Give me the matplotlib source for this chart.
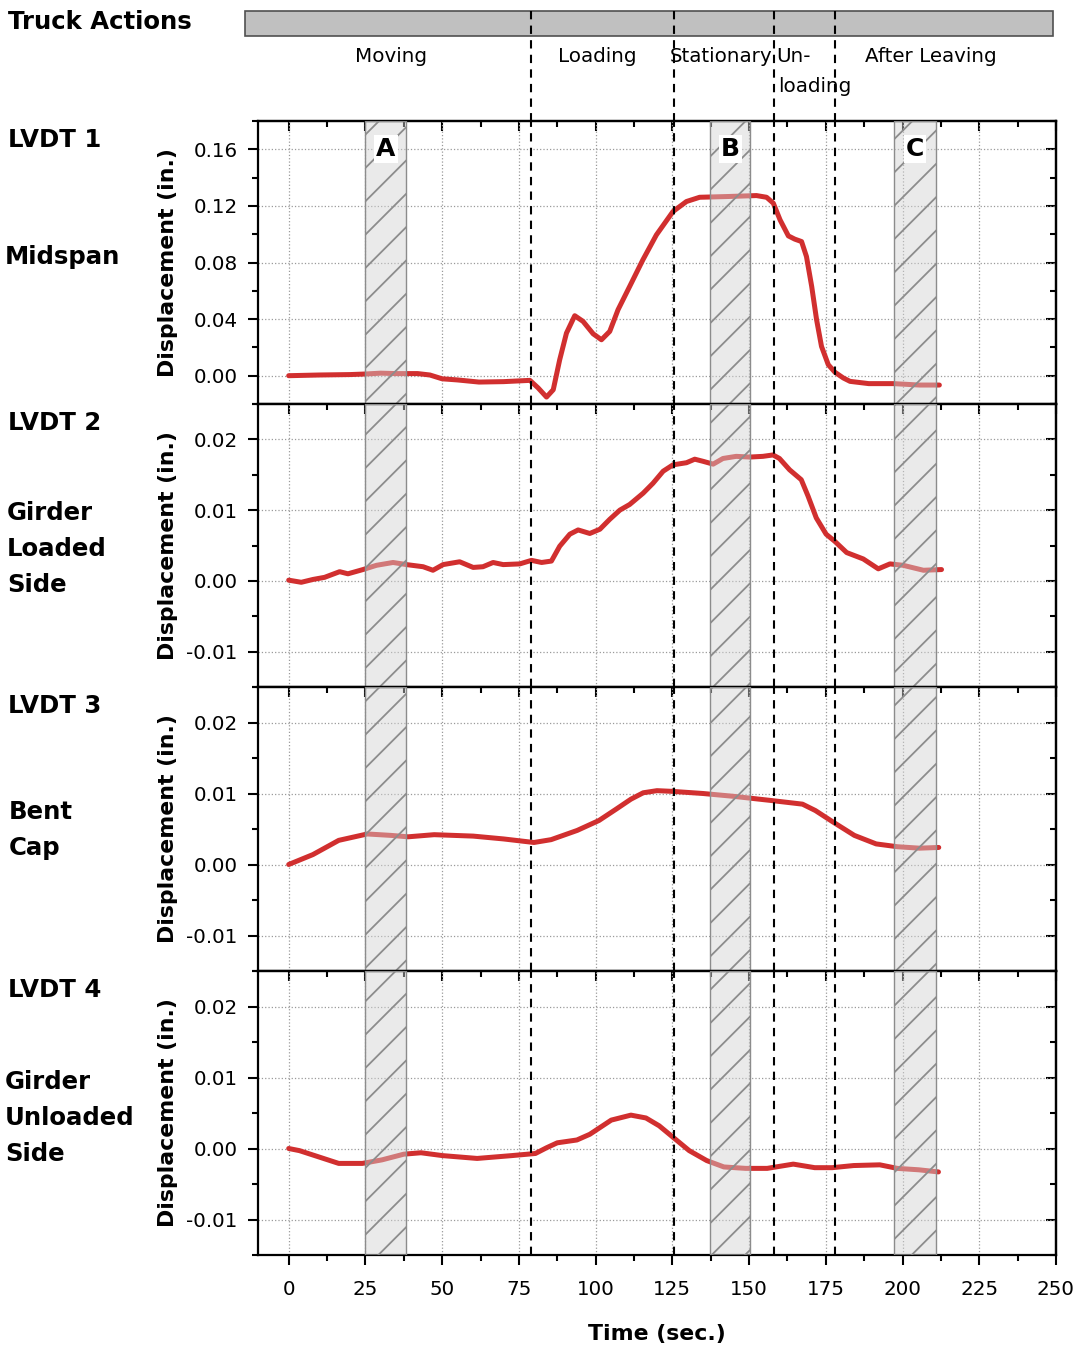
import matplotlib.pyplot as plt
from matplotlib.patches import Rectangle
from matplotlib.ticker import MultipleLocator, FormatStrFormatter

plt.rcParams['font.family'] = ['DejaVu Sans']
plt.rcParams['axes.unicode_minus'] = False
plt.rcParams['hatch.linewidth'] = 1.3

# LVDT 1 - midspan
t1 = [0, 10, 20, 25, 30, 35, 42, 46, 50, 55, 62, 70, 78.6, 81.3, 84.0, 86.2, 88.3, 90.5,
      93.2, 95.9, 99.2, 101.9, 104.6, 107.3, 111.1, 115.4, 119.8, 125.2, 129.6, 133.9,
      142.6, 152.4, 155.7, 157.9, 160.1, 162.8, 164.9, 167.1, 168.7, 170.4, 172.0, 173.6,
      175.8, 178.0, 180.7, 182.9, 189, 197, 205.5, 212]
d1 = [0.0, 0.0005, 0.0008, 0.0012, 0.0018, 0.0015, 0.0015, 0.0005, -0.0022, -0.003,
      -0.0045, -0.0042, -0.0033, -0.0087, -0.0151, -0.0099, 0.0113, 0.0301, 0.0424, 0.0384,
      0.0296, 0.0254, 0.0313, 0.0466, 0.0631, 0.0819, 0.0995, 0.116, 0.1231, 0.1261,
      0.1266, 0.1273, 0.1261, 0.1219, 0.1101, 0.0988, 0.0965, 0.0948, 0.0842, 0.0631,
      0.0395, 0.0207, 0.0078, 0.0024, -0.0016, -0.004, -0.0056, -0.0056, -0.0066, -0.0066]

# LVDT 2 - girder, loaded side
t2 = [0, 4.1, 7.9, 11.7, 16.6, 19.3, 24.2, 28.6, 34.0, 38.4, 43.8, 47.0, 50.3, 55.7,
      60.1, 63.3, 66.6, 69.9, 75.3, 79.1, 82.4, 85.6, 88.3, 91.6, 94.3, 98.1, 101.4,
      104.6, 107.9, 111.1, 115.5, 118.7, 122.0, 125.2, 129.6, 132.3, 135.0, 138.3, 141.5,
      145.8, 150.2, 154.5, 157.8, 159.9, 163.2, 167.0, 169.2, 171.9, 175.1, 177.9, 181.8,
      187.2, 192.1, 195.9, 200.2, 206.8, 212.7]
d2 = [0.0001, -0.0002, 0.0002, 0.0005, 0.0013, 0.001, 0.0016, 0.0022, 0.0026, 0.0023,
      0.002, 0.0015, 0.0023, 0.0027, 0.0019, 0.002, 0.0026, 0.0023, 0.0024, 0.0029,
      0.0026, 0.0028, 0.0049, 0.0066, 0.0072, 0.0067, 0.0073, 0.0087, 0.010, 0.0108,
      0.0124, 0.0138, 0.0155, 0.0164, 0.0167, 0.0172, 0.0169, 0.0165, 0.0173, 0.0176,
      0.0175, 0.0176, 0.0178, 0.0173, 0.0157, 0.0143, 0.012, 0.0089, 0.0066, 0.0056,
      0.004, 0.0031, 0.0017, 0.0024, 0.0022, 0.0015, 0.0016]

# LVDT 3 - bent cap
t3 = [0, 7.9, 16.3, 25.6, 33.3, 38.9, 47.4, 60.1, 70.0, 79.9, 85.5, 94.0, 101.1, 106.7,
      111.5, 115.5, 120, 125, 135, 145, 157.5, 167.4, 171.6, 177.3, 184.3, 191.4, 198.4,
      205.5, 211.8]
d3 = [0, 0.0014, 0.0034, 0.0043, 0.0041, 0.0039, 0.0042, 0.004, 0.0036, 0.0031, 0.0035,
      0.0048, 0.0062, 0.0078, 0.0092, 0.0101, 0.0104, 0.0103, 0.010, 0.0096, 0.009,
      0.0085, 0.0076, 0.006, 0.0041, 0.0029, 0.0025, 0.0023, 0.0024]

# LVDT 4 - girder, unloaded side
t4 = [0, 3.5, 9.2, 16.3, 24.0, 30.4, 37.5, 43.1, 50.1, 61.4, 72.7, 80.4, 84.0, 87.5, 93.9,
      98.1, 105.1, 111.5, 116.4, 120.7, 124.9, 130.5, 136.2, 141.8, 148.9, 155.9, 164.4,
      171.4, 177.1, 184.1, 192.6, 198.3, 205.3, 211.7]
d4 = [0, -0.0003, -0.0011, -0.0021, -0.0021, -0.0016, -0.0008, -0.0006, -0.001, -0.0014,
      -0.001, -0.0007, 0.0001, 0.0008, 0.0012, 0.002, 0.004, 0.0047, 0.0043, 0.0032,
      0.0017, -0.0003, -0.0017, -0.0026, -0.0028, -0.0028, -0.0022, -0.0027, -0.0027,
      -0.0024, -0.0023, -0.0028, -0.003, -0.0033]

phase_lines = [79, 125.5, 158, 178]
windows = [(25, 38.3), (137.2, 150.4), (197.3, 210.8)]
window_names = ['A', 'B', 'C']

panels = [('LVDT 1', t1, d1), ('LVDT 2', t2, d2), ('LVDT 3', t3, d3), ('LVDT 4', t4, d4)]

W, H = 1081, 1348
fig = plt.figure(figsize=(W / 100, H / 100), dpi=100)

left, width = 258 / W, 798 / W
edges = [121, 404, 687, 971, 1255]
red = '#d12f2f'

# truck action bar on top
axt = fig.add_axes([left, 1 - 121 / H, width, 110 / H])
axt.set_xlim(-10, 250)
axt.set_ylim(110, 0)
axt.axis('off')
axt.add_patch(Rectangle((-14.3, 0), 263.3, 25, fc='#c0c0c0', ec='#505050', lw=1.2, clip_on=False))
for x in phase_lines:
    axt.plot([x, x], [0, 110], color='k', lw=1.5, dashes=(4, 3), zorder=3)
fs_phase = 14.3
axt.text(33.2, 45, 'Moving', ha='center', va='center', fontsize=fs_phase)
axt.text(100.4, 45, 'Loading', ha='center', va='center', fontsize=fs_phase)
axt.text(140.8, 45, 'Stationary', ha='center', va='center', fontsize=fs_phase)
axt.text(159.0, 45, 'Un-', ha='left', va='center', fontsize=fs_phase)
axt.text(159.5, 75, 'loading', ha='left', va='center', fontsize=fs_phase)
axt.text(209.3, 45, 'After Leaving', ha='center', va='center', fontsize=fs_phase)

fs_side = 17.6
fig.text(8 / W, 1 - 22 / H, 'Truck Actions', fontsize=fs_side, fontweight='bold', va='center')

for i, (name, t, d) in enumerate(panels):
    top, bot = edges[i], edges[i + 1]
    ax = fig.add_axes([left, 1 - bot / H, width, (bot - top) / H])
    ax.plot(t, d, color=red, lw=3.6, zorder=2, solid_capstyle='round', solid_joinstyle='round')
    for (a, b) in windows:
        ax.axvspan(a, b, fc='#d2d2d2', ec='none', alpha=0.45, zorder=3)
        ax.axvspan(a, b, fc='none', ec='#8c8c8c', hatch='/', lw=1.0, zorder=3.1)
    for x in phase_lines:
        ax.axvline(x, color='k', lw=1.5, dashes=(4, 3), zorder=4)

    ax.set_xlim(-10, 250)
    ax.xaxis.set_major_locator(MultipleLocator(25))
    ax.xaxis.set_minor_locator(MultipleLocator(12.5))
    if i == 0:
        ax.set_ylim(-0.02, 0.18)
        ax.yaxis.set_major_locator(MultipleLocator(0.04))
        ax.yaxis.set_minor_locator(MultipleLocator(0.02))
        for (a, b), lab in zip(windows, window_names):
            ax.text((a + b) / 2, 0.16, lab, ha='center', va='center', fontsize=18,
                    fontweight='bold', zorder=6,
                    bbox=dict(fc='white', ec='none', pad=1.5))
    else:
        ax.set_ylim(-0.015, 0.025)
        ax.yaxis.set_major_locator(MultipleLocator(0.01))
        ax.yaxis.set_minor_locator(MultipleLocator(0.005))
    ax.yaxis.set_major_formatter(FormatStrFormatter('%.2f'))
    ax.grid(True, which='major', ls=':', color='#9a9a9a', lw=0.9, zorder=0)
    ax.set_axisbelow(True)

    ax.tick_params(which='both', direction='out', width=1.5, labelsize=14.3,
                   labelbottom=(i == 3))
    ax.tick_params(which='major', length=7)
    ax.tick_params(which='minor', length=4)
    ax.tick_params(axis='y', which='major', pad=7.5)
    ax.tick_params(axis='x', which='major', pad=11)
    for s in ax.spines.values():
        s.set_linewidth(1.6)

    sx = ax.secondary_xaxis('top')
    sx.xaxis.set_major_locator(MultipleLocator(25))
    sx.xaxis.set_minor_locator(MultipleLocator(12.5))
    sx.tick_params(which='both', direction='in', width=1.5, labeltop=False)
    sx.tick_params(which='major', length=7)
    sx.tick_params(which='minor', length=4)
    sx.spines['top'].set_linewidth(1.6)
    sy = ax.secondary_yaxis('right')
    sy.yaxis.set_major_locator(ax.yaxis.get_major_locator())
    sy.yaxis.set_minor_locator(ax.yaxis.get_minor_locator())
    sy.tick_params(which='both', direction='in', width=1.5, labelright=False)
    sy.tick_params(which='major', length=7)
    sy.tick_params(which='minor', length=4)
    sy.spines['right'].set_linewidth(1.6)

    ax.set_ylabel('Displacement (in.)', fontsize=15.8, fontweight='bold')
    ax.yaxis.set_label_coords(-0.100, 0.5)
    if i == 3:
        ax.set_xlabel('Time (sec.)', fontsize=15.8, fontweight='bold', labelpad=18)

    fig.text(8 / W, 1 - (top + 19) / H, name, fontsize=fs_side, fontweight='bold', va='center')

# sensor location labels, one text per line
side_lines = [('Midspan', 5, 257),
              ('Girder', 7, 513), ('Loaded', 7, 549), ('Side', 7, 585),
              ('Bent', 9, 812), ('Cap', 9, 848),
              ('Girder', 5, 1082), ('Unloaded', 5, 1118), ('Side', 5, 1154)]
for txt, px, py in side_lines:
    fig.text(px / W, 1 - py / H, txt, fontsize=fs_side, fontweight='bold', va='center')

fig.savefig('out.png', dpi=100)
